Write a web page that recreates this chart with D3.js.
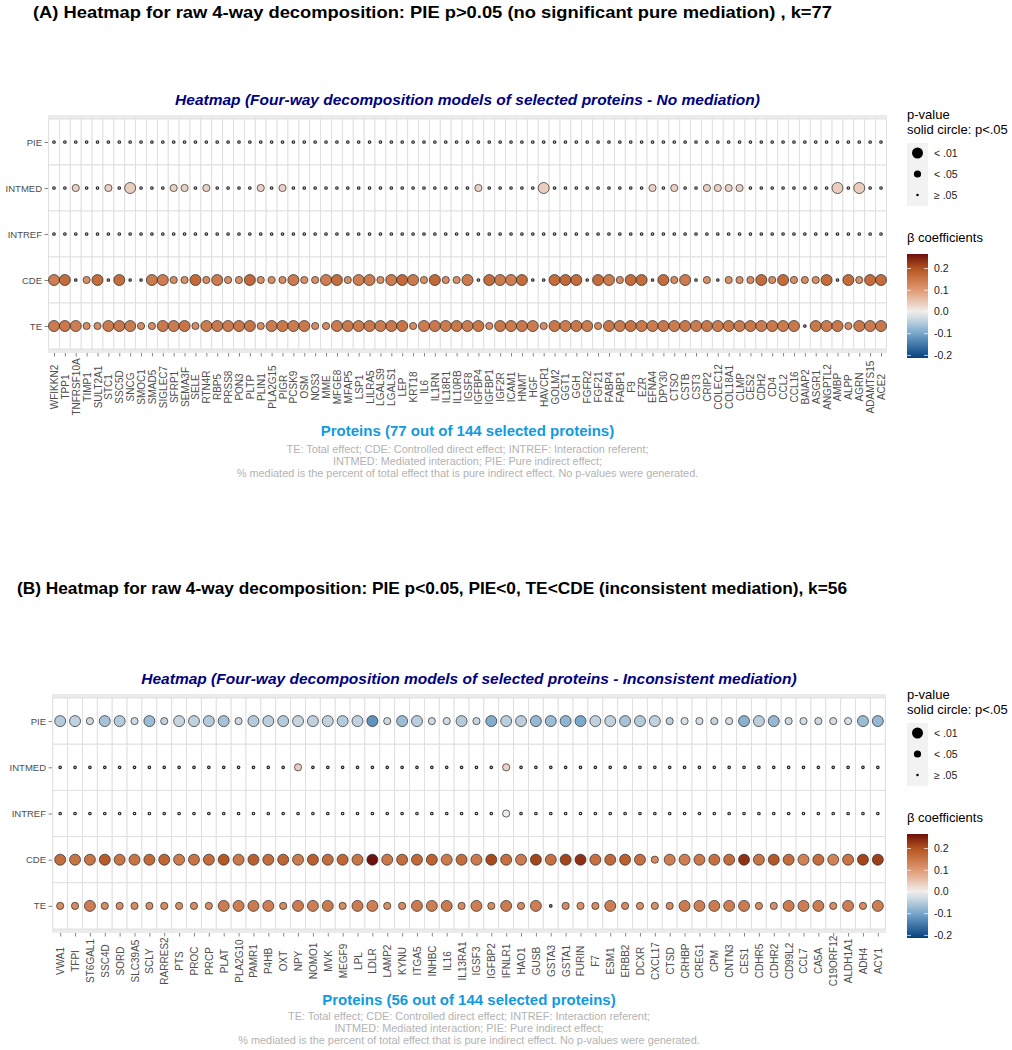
<!DOCTYPE html>
<html lang="en">
<head>
<meta charset="utf-8">
<title>Four-way decomposition heatmaps</title>
<script src="https://d3js.org/d3.v7.min.js"></script>
<style>
  body { margin: 0; background: #fff; }
</style>
</head>
<body>
<div id="container"></div>
<script>
const effects = ['PIE', 'INTMED', 'INTREF', 'CDE', 'TE']
const sizeLabels = ['< .01', '< .05', '\u2265 .05']
const pClasses = [2, 1, 0] // 2: p<.01, 1: p<.05, 0: p>=.05
const colorTicks = [0.2, 0.1, 0.0, -0.1, -0.2]
const colorLimits = [-0.212, 0.267]

// ---- (A) no mediation, 77 proteins ----
const proteinsA = ['WFIKKN2', 'TPP1', 'TNFRSF10A', 'TIMP1', 'SULT2A1', 'STC1', 'SSC5D', 'SNCG', 'SMOC1', 'SMAD5',
  'SIGLEC7', 'SFRP1', 'SEMA3F', 'SELE', 'RTN4R', 'RBP5', 'PRSS8', 'PON3', 'PLTP', 'PLIN1',
  'PLA2G15', 'PIGR', 'PCSK9', 'OSM', 'NOS3', 'MME', 'MFGE8', 'MFAP5', 'LSP1', 'LILRA5',
  'LGALS9', 'LGALS1', 'LEP', 'KRT18', 'IL6', 'IL1RN', 'IL18R1', 'IL10RB', 'IGSF8', 'IGFBP4',
  'IGFBP1', 'IGF2R', 'ICAM1', 'HNMT', 'HGF', 'HAVCR1', 'GOLM2', 'GGT1', 'GGH', 'FGFR2',
  'FGF21', 'FABP4', 'FABP1', 'F9', 'EZR', 'EFNA4', 'DPY30', 'CTSO', 'CSTB', 'CST3',
  'CRIP2', 'COLEC12', 'COL18A1', 'CLMP', 'CES2', 'CDH2', 'CD4', 'CCL2', 'CCL16', 'BAIAP2',
  'ASGR1', 'ANGPTL2', 'AMBP', 'ALPP', 'AGRN', 'ADAMTS15', 'ACE2']

const betaA_PIE = [0.004, 0.006, 0.003, 0.005, 0.008, 0.002, 0.004, 0.010, 0.003, 0.005,
  0.006, 0.007, 0.004, 0.003, 0.005, 0.002, 0.004, 0.006, 0.003, 0.005,
  0.004, 0.006, 0.003, 0.002, 0.005, 0.004, 0.003, 0.006, 0.004, 0.005,
  0.003, 0.004, 0.007, 0.002, 0.005, 0.004, 0.003, 0.006, 0.004, 0.005,
  0.003, 0.004, 0.005, 0.002, 0.006, 0.008, 0.004, 0.003, 0.005, 0.004,
  0.006, 0.003, 0.004, 0.002, 0.005, 0.006, 0.003, 0.005, 0.004, 0.003,
  0.005, 0.004, 0.006, 0.005, 0.003, 0.004, 0.002, 0.005, 0.003, 0.004,
  0.003, 0.005, 0.007, 0.004, 0.006, 0.003, 0.004]
const pA_PIE = [0, 0, 0, 0, 0, 0, 0, 0, 0, 0,
  0, 0, 0, 0, 0, 0, 0, 0, 0, 0,
  0, 0, 0, 0, 0, 0, 0, 0, 0, 0,
  0, 0, 0, 0, 0, 0, 0, 0, 0, 0,
  0, 0, 0, 0, 0, 0, 0, 0, 0, 0,
  0, 0, 0, 0, 0, 0, 0, 0, 0, 0,
  0, 0, 0, 0, 0, 0, 0, 0, 0, 0,
  0, 0, 0, 0, 0, 0, 0]

const betaA_INTMED = [0.01, 0.01, 0.035, 0.01, 0.01, 0.035, 0.01, 0.04, 0.01, 0.01,
  0.01, 0.035, 0.035, 0.01, 0.035, 0.01, 0.01, 0.01, 0.01, 0.035,
  0.01, 0.035, 0.01, 0.01, 0.01, 0.01, 0.01, 0.01, 0.01, 0.01,
  0.01, 0.01, 0.01, 0.01, 0.01, 0.01, 0.01, 0.01, 0.01, 0.035,
  0.01, 0.01, 0.01, 0.01, 0.01, 0.04, 0.01, 0.01, 0.01, 0.01,
  0.01, 0.01, 0.01, 0.01, 0.01, 0.035, 0.01, 0.035, 0.01, 0.01,
  0.035, 0.035, 0.035, 0.035, 0.01, 0.01, 0.01, 0.01, 0.01, 0.01,
  0.01, 0.01, 0.04, 0.01, 0.04, 0.01, 0.01]
const pA_INTMED = [0, 0, 1, 0, 0, 1, 0, 2, 0, 0,
  0, 1, 1, 0, 1, 0, 0, 0, 0, 1,
  0, 1, 0, 0, 0, 0, 0, 0, 0, 0,
  0, 0, 0, 0, 0, 0, 0, 0, 0, 1,
  0, 0, 0, 0, 0, 2, 0, 0, 0, 0,
  0, 0, 0, 0, 0, 1, 0, 1, 0, 0,
  1, 1, 1, 1, 0, 0, 0, 0, 0, 0,
  0, 0, 2, 0, 2, 0, 0]

const betaA_INTREF = [0.003, 0.004, 0.002, 0.003, 0.005, 0.002, 0.003, 0.004, 0.002, 0.003,
  0.004, 0.003, 0.002, 0.003, 0.004, 0.002, 0.003, 0.004, 0.002, 0.003,
  0.003, 0.004, 0.002, 0.003, 0.004, 0.003, 0.002, 0.003, 0.004, 0.003,
  0.002, 0.003, 0.004, 0.002, 0.003, 0.004, 0.002, 0.003, 0.003, 0.004,
  0.002, 0.003, 0.004, 0.003, 0.002, 0.005, 0.003, 0.002, 0.004, 0.003,
  0.003, 0.002, 0.004, 0.003, 0.002, 0.004, 0.003, 0.003, 0.002, 0.004,
  0.003, 0.002, 0.004, 0.003, 0.003, 0.002, 0.004, 0.003, 0.002, 0.003,
  0.004, 0.003, 0.005, 0.002, 0.004, 0.003, 0.002]
const pA_INTREF = [0, 0, 0, 0, 0, 0, 0, 0, 0, 0,
  0, 0, 0, 0, 0, 0, 0, 0, 0, 0,
  0, 0, 0, 0, 0, 0, 0, 0, 0, 0,
  0, 0, 0, 0, 0, 0, 0, 0, 0, 0,
  0, 0, 0, 0, 0, 0, 0, 0, 0, 0,
  0, 0, 0, 0, 0, 0, 0, 0, 0, 0,
  0, 0, 0, 0, 0, 0, 0, 0, 0, 0,
  0, 0, 0, 0, 0, 0, 0]

const betaA_CDE = [0.14, 0.165, 0.05, 0.115, 0.165, 0.05, 0.165, 0.05, 0.05, 0.145,
  0.14, 0.12, 0.115, 0.17, 0.12, 0.145, 0.115, 0.115, 0.17, 0.115,
  0.115, 0.12, 0.145, 0.115, 0.115, 0.14, 0.165, 0.115, 0.14, 0.145,
  0.115, 0.145, 0.17, 0.145, 0.115, 0.17, 0.12, 0.115, 0.145, 0.05,
  0.165, 0.145, 0.14, 0.165, 0.05, 0.05, 0.165, 0.17, 0.165, 0.05,
  0.165, 0.145, 0.12, 0.165, 0.165, 0.05, 0.165, 0.12, 0.145, 0.05,
  0.115, 0.05, 0.115, 0.115, 0.12, 0.165, 0.12, 0.165, 0.115, 0.12,
  0.115, 0.165, 0.05, 0.165, 0.115, 0.165, 0.165]
const pA_CDE = [2, 2, 0, 1, 2, 0, 2, 0, 0, 2,
  2, 1, 1, 2, 1, 2, 1, 1, 2, 1,
  1, 1, 2, 1, 1, 2, 2, 1, 2, 2,
  1, 2, 2, 2, 1, 2, 1, 1, 2, 0,
  2, 2, 2, 2, 0, 0, 2, 2, 2, 0,
  2, 2, 1, 2, 2, 0, 2, 1, 2, 0,
  1, 0, 1, 1, 1, 2, 1, 2, 1, 1,
  1, 2, 0, 2, 1, 2, 2]

const betaA_TE = [0.145, 0.15, 0.14, 0.12, 0.12, 0.145, 0.15, 0.145, 0.12, 0.12,
  0.15, 0.145, 0.155, 0.12, 0.145, 0.15, 0.145, 0.15, 0.155, 0.12,
  0.145, 0.15, 0.145, 0.15, 0.12, 0.12, 0.145, 0.15, 0.145, 0.15,
  0.145, 0.15, 0.155, 0.12, 0.145, 0.15, 0.145, 0.15, 0.145, 0.15,
  0.12, 0.15, 0.145, 0.15, 0.145, 0.12, 0.15, 0.145, 0.15, 0.145,
  0.12, 0.15, 0.145, 0.155, 0.15, 0.145, 0.15, 0.145, 0.15, 0.145,
  0.15, 0.145, 0.15, 0.145, 0.15, 0.145, 0.15, 0.145, 0.15, 0.06,
  0.15, 0.145, 0.15, 0.12, 0.15, 0.145, 0.15]
const pA_TE = [2, 2, 2, 1, 1, 2, 2, 2, 1, 1,
  2, 2, 2, 1, 2, 2, 2, 2, 2, 1,
  2, 2, 2, 2, 1, 1, 2, 2, 2, 2,
  2, 2, 2, 1, 2, 2, 2, 2, 2, 2,
  1, 2, 2, 2, 2, 1, 2, 2, 2, 2,
  1, 2, 2, 2, 2, 2, 2, 2, 2, 2,
  2, 2, 2, 2, 2, 2, 2, 2, 2, 0,
  2, 2, 2, 1, 2, 2, 2]

// ---- (B) inconsistent mediation, 56 proteins ----
const proteinsB = ['VWA1', 'TFPI', 'ST6GAL1', 'SSC4D', 'SORD', 'SLC39A5', 'SCLY', 'RARRES2', 'PTS', 'PROC',
  'PRCP', 'PLAT', 'PLA2G10', 'PAMR1', 'P4HB', 'OXT', 'NPY', 'NOMO1', 'MVK', 'MEGF9',
  'LPL', 'LDLR', 'LAMP2', 'KYNU', 'ITGA5', 'INHBC', 'IL16', 'IL13RA1', 'IGSF3', 'IGFBP2',
  'IFNLR1', 'HAO1', 'GUSB', 'GSTA3', 'GSTA1', 'FURIN', 'F7', 'ESM1', 'ERBB2', 'DCXR',
  'CXCL17', 'CTSD', 'CRHBP', 'CREG1', 'CPM', 'CNTN3', 'CES1', 'CDHR5', 'CDHR2', 'CD99L2',
  'CCL7', 'CA5A', 'C19ORF12', 'ALDH1A1', 'ADH4', 'ACY1']

const betaB_PIE = [-0.05, -0.04, -0.03, -0.06, -0.05, -0.03, -0.07, -0.04, -0.035, -0.04,
  -0.05, -0.06, -0.03, -0.05, -0.045, -0.05, -0.035, -0.04, -0.04, -0.05,
  -0.04, -0.12, -0.03, -0.07, -0.045, -0.03, -0.025, -0.05, -0.035, -0.09,
  -0.045, -0.045, -0.075, -0.07, -0.08, -0.095, -0.04, -0.04, -0.06, -0.05,
  -0.04, -0.04, -0.02, -0.025, -0.035, -0.025, -0.085, -0.045, -0.075, -0.03,
  -0.025, -0.03, -0.025, -0.02, -0.07, -0.075]
const pB_PIE = [2, 2, 1, 2, 2, 1, 2, 1, 2, 2,
  2, 2, 1, 2, 2, 2, 2, 2, 2, 2,
  2, 2, 1, 2, 2, 1, 1, 2, 1, 2,
  2, 2, 2, 2, 2, 2, 2, 2, 2, 2,
  2, 1, 1, 1, 1, 1, 2, 2, 2, 1,
  1, 1, 1, 1, 2, 2]

const betaB_INTMED = [0.01, 0.01, 0.01, 0.01, 0.01, 0.01, 0.01, 0.01, 0.01, 0.01,
  0.01, 0.01, 0.01, 0.01, 0.01, 0.01, 0.04, 0.01, 0.01, 0.01,
  0.01, 0.01, 0.01, 0.01, 0.01, 0.01, 0.01, 0.01, 0.01, 0.01,
  0.035, 0.01, 0.01, 0.01, 0.01, 0.01, 0.01, 0.01, 0.01, 0.01,
  0.01, 0.01, 0.01, 0.01, 0.01, 0.01, 0.01, 0.01, 0.01, 0.01,
  0.01, 0.01, 0.01, 0.01, 0.01, 0.01]
const pB_INTMED = [0, 0, 0, 0, 0, 0, 0, 0, 0, 0,
  0, 0, 0, 0, 0, 0, 1, 0, 0, 0,
  0, 0, 0, 0, 0, 0, 0, 0, 0, 0,
  1, 0, 0, 0, 0, 0, 0, 0, 0, 0,
  0, 0, 0, 0, 0, 0, 0, 0, 0, 0,
  0, 0, 0, 0, 0, 0]

const betaB_INTREF = [0.003, 0.003, 0.003, 0.003, 0.003, 0.003, 0.003, 0.003, 0.003, 0.003,
  0.003, 0.003, 0.003, 0.003, 0.003, 0.003, 0.003, 0.003, 0.003, 0.003,
  0.003, 0.003, 0.003, 0.003, 0.003, 0.003, 0.003, 0.003, 0.003, 0.003,
  -0.004, 0.003, 0.003, 0.003, 0.003, 0.003, 0.003, 0.003, 0.003, 0.003,
  0.003, 0.003, 0.003, 0.003, 0.003, 0.003, 0.003, 0.003, 0.003, 0.003,
  0.003, 0.003, 0.003, 0.003, 0.003, 0.003]
const pB_INTREF = [0, 0, 0, 0, 0, 0, 0, 0, 0, 0,
  0, 0, 0, 0, 0, 0, 0, 0, 0, 0,
  0, 0, 0, 0, 0, 0, 0, 0, 0, 0,
  1, 0, 0, 0, 0, 0, 0, 0, 0, 0,
  0, 0, 0, 0, 0, 0, 0, 0, 0, 0,
  0, 0, 0, 0, 0, 0]

const betaB_CDE = [0.165, 0.155, 0.155, 0.19, 0.155, 0.155, 0.17, 0.175, 0.145, 0.155,
  0.165, 0.195, 0.15, 0.185, 0.165, 0.175, 0.145, 0.185, 0.165, 0.175,
  0.155, 0.265, 0.15, 0.165, 0.17, 0.18, 0.145, 0.165, 0.145, 0.21,
  0.16, 0.145, 0.215, 0.16, 0.215, 0.235, 0.16, 0.17, 0.185, 0.16,
  0.12, 0.14, 0.14, 0.15, 0.16, 0.165, 0.235, 0.155, 0.195, 0.165,
  0.135, 0.165, 0.135, 0.155, 0.215, 0.22]
const pB_CDE = [2, 2, 2, 2, 2, 2, 2, 2, 2, 2,
  2, 2, 2, 2, 2, 2, 2, 2, 2, 2,
  2, 2, 2, 2, 2, 2, 2, 2, 2, 2,
  2, 2, 2, 2, 2, 2, 2, 2, 2, 2,
  1, 2, 2, 2, 2, 2, 2, 2, 2, 2,
  2, 2, 2, 2, 2, 2]

const betaB_TE = [0.12, 0.12, 0.14, 0.12, 0.115, 0.12, 0.115, 0.12, 0.115, 0.12,
  0.115, 0.145, 0.14, 0.145, 0.14, 0.12, 0.145, 0.14, 0.145, 0.12,
  0.145, 0.14, 0.115, 0.12, 0.145, 0.14, 0.145, 0.12, 0.14, 0.12,
  0.145, 0.12, 0.14, 0.05, 0.12, 0.115, 0.12, 0.14, 0.12, 0.115,
  0.115, 0.12, 0.145, 0.14, 0.145, 0.14, 0.145, 0.12, 0.115, 0.145,
  0.14, 0.145, 0.12, 0.14, 0.12, 0.14]
const pB_TE = [1, 1, 2, 1, 1, 1, 1, 1, 1, 1,
  1, 2, 2, 2, 2, 1, 2, 2, 2, 1,
  2, 2, 1, 1, 2, 2, 2, 1, 2, 1,
  2, 1, 2, 0, 1, 1, 1, 2, 1, 1,
  1, 1, 2, 2, 2, 2, 2, 1, 1, 2,
  2, 2, 1, 2, 1, 2]

const captionLines = ['TE: Total effect; CDE: Controlled direct effect; INTREF: Interaction referent;',
  'INTMED: Mediated interaction; PIE: Pure indirect effect;',
  '% mediated is the percent of total effect that is pure indirect effect. No p-values were generated.']

const FONT = "'Liberation Sans', Arial, Helvetica, sans-serif"

let svg = d3.select('#container').append('svg')
  .attr('width', 1012)
  .attr('height', 1050)
  .style('font-family', FONT)

const color = d3.scaleLinear()
  .domain([-0.212, -0.2, -0.1, 0, 0.1, 0.2, 0.267])
  .range(['#083f7c', '#0d4b87', '#76a6cb', '#f2efed', '#e09a74', '#b4541f', '#6b0f0a'])
  .clamp(true)
const radius = d3.scaleOrdinal().domain(pClasses).range([5.5, 3.6, 1.25])

let drawPanel = (cfg) => {
  const g = svg.append('g')
  const x = d3.scalePoint().domain(cfg.proteins).range([cfg.x0, cfg.x1]).padding(0.55)
  const y = d3.scalePoint().domain(effects).range([cfg.y0, cfg.y1]).padding(0.5)
  const sx = x.step(), sy = y.step()
  const cx = (cfg.x0 + cfg.x1) / 2

  // Headline
  g.append('text')
    .attr('x', cfg.titleX).attr('y', cfg.titleY)
    .attr('font-size', 17).attr('font-weight', 'bold')
    .attr('textLength', cfg.titleWidth).attr('lengthAdjust', 'spacingAndGlyphs')
    .text(cfg.title)
  // Plot title
  g.append('text')
    .attr('x', cx).attr('y', cfg.y0 - 14)
    .attr('text-anchor', 'middle')
    .attr('font-size', 15.5).attr('font-weight', 'bold').attr('font-style', 'italic')
    .attr('fill', '#000080')
    .text(cfg.subtitle)

  // Panel background, shows as thin strips around the tiles
  g.append('rect')
    .attr('x', cfg.x0).attr('y', cfg.y0 - 4)
    .attr('width', cfg.x1 - cfg.x0).attr('height', cfg.y1 - cfg.y0 + 8)
    .attr('fill', '#ebebeb')

  const cells = []
  effects.forEach(e => cfg.proteins.forEach((p, i) => {
    cells.push({ effect: e, protein: p, beta: cfg.rows[e].beta[i], p: cfg.rows[e].p[i] })
  }))

  // Tiles
  g.append('g').selectAll('rect')
    .data(cells).enter()
    .append('rect')
    .attr('x', d => x(d.protein) - sx / 2)
    .attr('y', d => y(d.effect) - sy / 2)
    .attr('width', sx).attr('height', sy)
    .attr('fill', '#fff')
    .attr('stroke', '#dedede')
    .attr('stroke-width', 0.9)

  // Axes
  const yAxis = g.append('g')
    .attr('transform', `translate(${cfg.x0},0)`)
    .call(d3.axisLeft(y).tickSize(3.5).tickPadding(2.5))
  yAxis.attr('font-family', FONT)
  yAxis.select('.domain').remove()
  yAxis.selectAll('line').attr('stroke', '#333').attr('stroke-width', 0.6)
  yAxis.selectAll('text').attr('font-size', 9.5).attr('fill', '#4d4d4d')

  const axisY = cfg.y1 + 4
  const xAxis = g.append('g')
    .attr('transform', `translate(0,${axisY})`)
    .call(d3.axisBottom(x).tickSize(3.5))
  xAxis.attr('font-family', FONT)
  xAxis.select('.domain').remove()
  xAxis.selectAll('line').attr('stroke', '#333').attr('stroke-width', 0.6)
  xAxis.selectAll('text')
    .attr('y', null).attr('dy', '0.35em')
    .attr('transform', `translate(0,${cfg.labelMid - axisY}) rotate(-90)`)
    .attr('text-anchor', 'middle')
    .attr('font-size', 10).attr('fill', '#4d4d4d')

  // Dots
  g.append('g').selectAll('circle')
    .data(cells).enter()
    .append('circle')
    .attr('cx', d => x(d.protein))
    .attr('cy', d => y(d.effect))
    .attr('r', d => radius(d.p))
    .attr('fill', d => color(d.beta))
    .attr('stroke', '#262626')
    .attr('stroke-width', d => d.p === 0 ? 1.2 : 0.7)

  // Axis title and caption
  g.append('text')
    .attr('x', cx).attr('y', cfg.axisTitleY)
    .attr('text-anchor', 'middle')
    .attr('font-size', 15).attr('font-weight', 'bold').attr('fill', '#129ae0')
    .text(cfg.axisTitle)
  g.selectAll('text.caption')
    .data(captionLines).enter()
    .append('text')
    .attr('class', 'caption')
    .attr('x', cx).attr('y', (d, i) => cfg.captionY + i * 12)
    .attr('text-anchor', 'middle')
    .attr('font-size', 10.9).attr('fill', '#b3b3b3')
    .text(d => d)

  // Legend: p-value sizes
  const lg = g.append('g').attr('transform', `translate(907,${cfg.legendY})`)
  lg.append('text').attr('x', 0).attr('y', 119).attr('font-size', 13).text('p-value')
  lg.append('text').attr('x', 0).attr('y', 134).attr('font-size', 13).text('solid circle: p<.05')
  lg.append('rect').attr('x', 0).attr('y', 143).attr('width', 21).attr('height', 63).attr('fill', '#f2f2f2')
  const ky = d3.scalePoint().domain(pClasses).range([153, 195])
  lg.selectAll('circle.key')
    .data(pClasses).enter()
    .append('circle')
    .attr('cx', 10.5).attr('cy', d => ky(d))
    .attr('r', d => radius(d))
    .attr('fill', '#000')
  lg.selectAll('text.key')
    .data(pClasses).enter()
    .append('text')
    .attr('x', 27).attr('y', d => ky(d) + 3.5)
    .attr('font-size', 10.5).attr('fill', '#1a1a1a')
    .text((d, i) => sizeLabels[i])

  // Legend: colour bar
  lg.append('text').attr('x', 0).attr('y', 242).attr('font-size', 13).text('\u03b2 coefficients')
  const cb = d3.scaleLinear().domain(colorLimits).range([358, 254])
  const gradId = 'grad' + cfg.id
  const grad = svg.append('defs').append('linearGradient')
    .attr('id', gradId).attr('x1', 0).attr('x2', 0).attr('y1', 1).attr('y2', 0)
  d3.range(0, 1.0001, 0.05).forEach(t => {
    grad.append('stop')
      .attr('offset', t)
      .attr('stop-color', color(colorLimits[0] + t * (colorLimits[1] - colorLimits[0])))
  })
  lg.append('rect')
    .attr('x', 0).attr('y', 254).attr('width', 21).attr('height', 104)
    .attr('fill', `url(#${gradId})`)
  lg.selectAll('line.cbt')
    .data(colorTicks).enter()
    .append('line')
    .attr('x1', 0).attr('x2', 4)
    .attr('y1', d => cb(d)).attr('y2', d => cb(d))
    .attr('stroke', '#fff').attr('stroke-opacity', 0.7)
  lg.selectAll('line.cbt2')
    .data(colorTicks).enter()
    .append('line')
    .attr('x1', 17).attr('x2', 21)
    .attr('y1', d => cb(d)).attr('y2', d => cb(d))
    .attr('stroke', '#fff').attr('stroke-opacity', 0.7)
  lg.selectAll('text.cbl')
    .data(colorTicks).enter()
    .append('text')
    .attr('x', 27).attr('y', d => cb(d) + 3.5)
    .attr('font-size', 10.5).attr('fill', '#1a1a1a')
    .text(d => d.toFixed(1))
}

drawPanel({
  id: 'A',
  proteins: proteinsA,
  rows: {
    PIE: { beta: betaA_PIE, p: pA_PIE },
    INTMED: { beta: betaA_INTMED, p: pA_INTMED },
    INTREF: { beta: betaA_INTREF, p: pA_INTREF },
    CDE: { beta: betaA_CDE, p: pA_CDE },
    TE: { beta: betaA_TE, p: pA_TE }
  },
  x0: 48, x1: 887, y0: 119, y1: 349,
  title: '(A) Heatmap for raw 4-way decomposition: PIE p>0.05 (no significant pure mediation) , k=77',
  titleX: 33, titleY: 18, titleWidth: 799,
  subtitle: 'Heatmap (Four-way decomposition models of selected proteins - No mediation)',
  axisTitle: 'Proteins (77 out of 144 selected proteins)',
  labelMid: 387, axisTitleY: 436, captionY: 453, legendY: 0
})

drawPanel({
  id: 'B',
  proteins: proteinsB,
  rows: {
    PIE: { beta: betaB_PIE, p: pB_PIE },
    INTMED: { beta: betaB_INTMED, p: pB_INTMED },
    INTREF: { beta: betaB_INTREF, p: pB_INTREF },
    CDE: { beta: betaB_CDE, p: pB_CDE },
    TE: { beta: betaB_TE, p: pB_TE }
  },
  x0: 52, x1: 886, y0: 698, y1: 929,
  title: '(B) Heatmap for raw 4-way decomposition: PIE p<0.05, PIE<0, TE<CDE (inconsistent mediation), k=56',
  titleX: 17, titleY: 594, titleWidth: 830,
  subtitle: 'Heatmap (Four-way decomposition models of selected proteins - Inconsistent mediation)',
  axisTitle: 'Proteins (56 out of 144 selected proteins)',
  labelMid: 961, axisTitleY: 1005, captionY: 1019.5, legendY: 580
})
</script>
</body>
</html>
